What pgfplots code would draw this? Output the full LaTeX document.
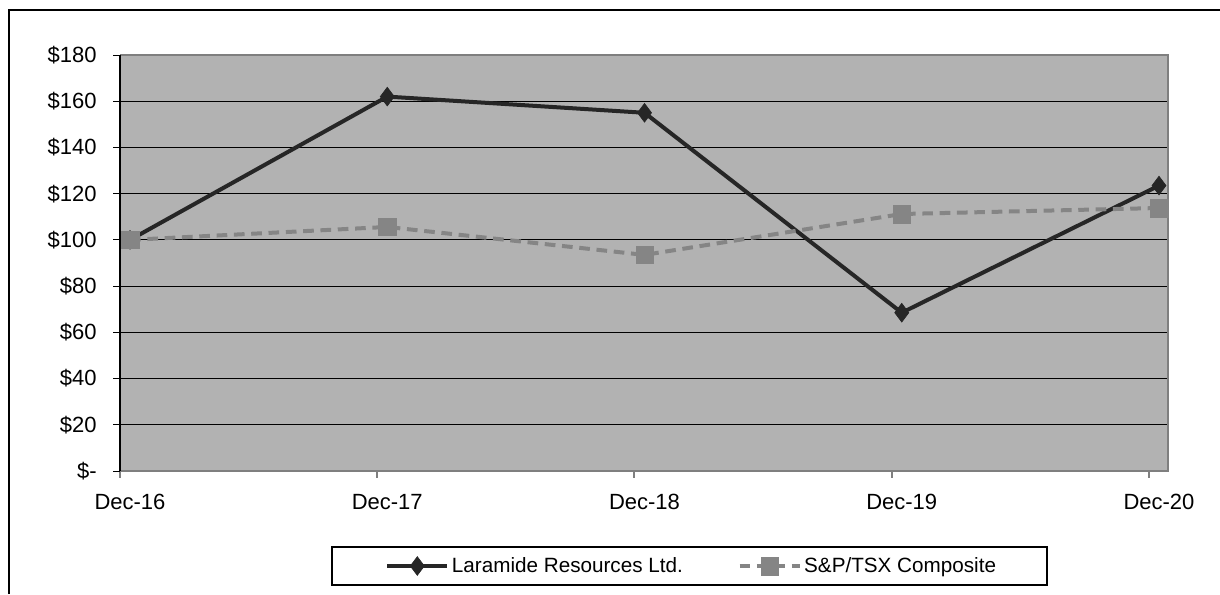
\documentclass[border=0pt]{standalone}
\usepackage{fontspec}
\setmainfont{Liberation Sans}
\usepackage{pgfplots}
\pgfplotsset{compat=1.18}

\definecolor{plotbg}{HTML}{B2B2B2}
\definecolor{frameg}{HTML}{7F7F7F}
\definecolor{darkline}{HTML}{262626}
\definecolor{greyline}{HTML}{858585}

\begin{document}
\begin{tikzpicture}
\useasboundingbox (0,0) rectangle (915pt,445.5pt);
\draw[line width=0.8pt] (6.75pt,0) -- (6.75pt,438pt) -- (915pt,438pt);
\begin{axis}[
    at={(90pt,92.25pt)}, anchor=south west,
    scale only axis,
    width=786pt, height=312pt,
    xmin=-0.039, xmax=4.035,
    ymin=0, ymax=180,
    axis background/.style={fill=plotbg},
    axis line style={draw=none},
    ytick={0,20,...,180},
    yticklabels={\$-,\$20,\$40,\$60,\$80,\$100,\$120,\$140,\$160,\$180},
    ymajorgrids,
    grid style={black, line width=0.6pt},
    xtick={-0.039,0.961,1.961,2.961,3.961},
    xticklabels={Dec-16,Dec-17,Dec-18,Dec-19,Dec-20},
    xtick pos=bottom, ytick pos=left,
    tick align=outside,
    major tick length=5pt,
    y tick style={black, line width=0.6pt},
    x tick style={frameg, line width=1.5pt},
    tick label style={font=\fontsize{16.5pt}{18pt}\selectfont},
    yticklabel style={xshift=-9pt},
    xticklabel style={xshift=7.5pt, yshift=-9pt},
    clip=false,
    legend columns=2,
    legend style={at={(axis description cs:0.2529,-0.2284)}, anchor=west,
        draw=none, fill=none, inner sep=0pt,
        font=\fontsize{15.5pt}{18pt}\selectfont,
        /tikz/every even column/.append style={column sep=39pt}},
    legend image code/.code={%
        \draw[mark repeat=2,mark phase=2,#1] plot coordinates {(0pt,0pt) (22.5pt,0pt) (45pt,0pt)};},
]
% frame of the plot area
\draw[frameg, line width=2.2pt] (rel axis cs:0,0) -- (rel axis cs:1,0) -- (rel axis cs:1,1) -- (rel axis cs:0,1);
\draw[black, line width=1.5pt] (rel axis cs:0,0) -- (rel axis cs:0,1);

\addplot[darkline, line width=3pt, mark=diamond*, mark size=7pt,
    mark options={solid, fill=darkline, draw=darkline, line width=0.5pt}]
    coordinates {(0,100) (1,162) (2,155) (3,68.5) (4,123.5)};
\addlegendentry{Laramide Resources Ltd.}

\addplot[greyline, line width=3pt, dash pattern=on 8pt off 5pt, mark=square*, mark size=6.5pt,
    mark options={solid, fill=greyline, draw=greyline, line width=0.2pt}]
    coordinates {(0,100) (1,105.6) (2,93.5) (3,111.2) (4,113.8)};
\addlegendentry{S\&P/TSX Composite}
\end{axis}
\draw[line width=0.8pt] (249pt,6.75pt) rectangle (785.25pt,35.25pt);
\end{tikzpicture}
\end{document}
